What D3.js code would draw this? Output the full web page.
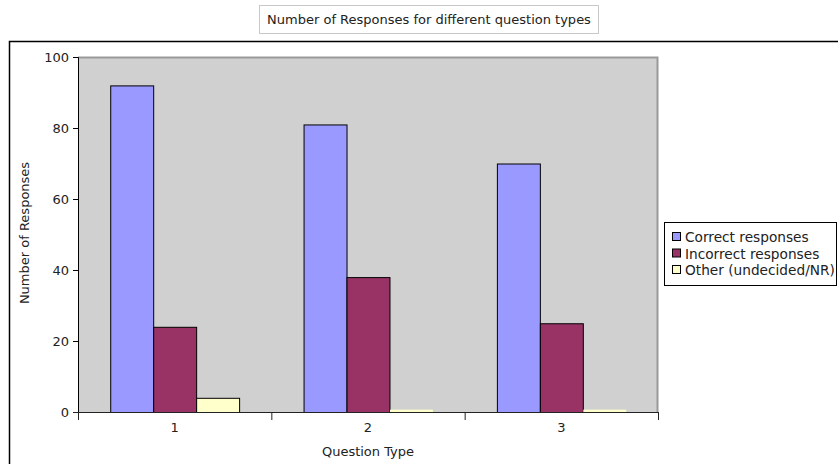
<!DOCTYPE html>
<html><head><meta charset="utf-8">
<script src="https://cdn.jsdelivr.net/npm/d3@7"></script>
<style>
body{margin:0;background:#fff;}
text{font-family:"DejaVu Sans",Verdana,sans-serif;font-size:13px;fill:#222;}
</style></head>
<body>
<svg id="c" width="838" height="464"></svg>
<script>
const categories = ["1","2","3"];
const seriesNames = ["Correct responses","Incorrect responses","Other (undecided/NR)"];
const correct = [92, 81, 70];
const incorrect = [24, 38, 25];
const other = [4, 0.8, 0.8];
const yTicks = [0, 20, 40, 60, 80, 100];
const colors = ["#9999ff", "#993366", "#ffffcc"];
const title = "Number of Responses for different question types";

const series = [correct, incorrect, other];
const svg = d3.select("#c");
const L = 78, R = 658, T = 57, B = 412;

// outer frame
svg.append("path").attr("d", "M9.5,464 V41.5 H838").attr("fill","none").attr("stroke","#000").attr("stroke-width",1.5);

// title box
const tg = svg.append("g");
tg.append("rect").attr("x",259.5).attr("y",5.5).attr("width",339).attr("height",28).attr("fill","#fff").attr("stroke","#c8c8c8");
tg.append("text").attr("x",429).attr("y",24).attr("text-anchor","middle").text(title);

const x = d3.scaleBand().domain(categories).range([L, R]).paddingInner(0).paddingOuter(0);
const inner = d3.scaleBand().domain(d3.range(series.length)).range([0, x.bandwidth()]).paddingInner(0).paddingOuter(0.75);
const y = d3.scaleLinear().domain([0, 100]).range([B, T]);

// plot background
svg.append("rect").attr("x",L).attr("y",T).attr("width",R-L).attr("height",B-T).attr("fill","#d0d0d0");
svg.append("path").attr("d",`M${L},${T+0.5} H${R-0.5} V${B}`).attr("fill","none").attr("stroke","#999").attr("stroke-width",2);

// bars
series.forEach((vals, si) => {
  svg.append("g").selectAll("rect").data(vals).join("rect")
    .attr("x", (d,i) => x(categories[i]) + inner(si) + 0.5)
    .attr("y", d => y(d) + 0.5)
    .attr("width", inner.bandwidth())
    .attr("height", d => Math.max(0, y(0) - y(d)))
    .attr("fill", colors[si])
    .attr("stroke", d => (y(0) - y(d)) > 4 ? "#000" : "none")
    .attr("stroke-width", 1);
});

// axes
const yAxis = d3.axisLeft(y).tickValues(yTicks).tickSize(5).tickPadding(4);
const yg = svg.append("g").attr("transform", `translate(${L},0)`).call(yAxis);
yg.select(".domain").attr("stroke","#000");
yg.selectAll(".tick text").style("font-size","13px").style("font-family","'DejaVu Sans',sans-serif").attr("fill","#222");

const xAxis = d3.axisBottom(x).tickSize(0).tickPadding(11);
const xg = svg.append("g").attr("transform", `translate(0,${B})`).call(xAxis);
xg.select(".domain").remove();
xg.selectAll(".tick text").style("font-size","13px").style("font-family","'DejaVu Sans',sans-serif").attr("fill","#222");
svg.append("line").attr("x1",L-5).attr("x2",R).attr("y1",B+0.5).attr("y2",B+0.5).attr("stroke","#222");
const bounds = [L].concat(categories.map(c => x(c) + x.bandwidth()));
svg.append("g").selectAll("line").data(bounds).join("line")
  .attr("x1", d => d + 0.5).attr("x2", d => d + 0.5).attr("y1", B).attr("y2", B + 8).attr("stroke","#222");

// axis titles
svg.append("text").attr("x",368).attr("y",456).attr("text-anchor","middle").text("Question Type");
svg.append("text").attr("transform","translate(29,233) rotate(-90)").attr("text-anchor","middle").text("Number of Responses");

// legend
const lg = svg.append("g");
lg.append("rect").attr("x",664.5).attr("y",222.5).attr("width",172).attr("height",63).attr("fill","#fff").attr("stroke","#000");
seriesNames.forEach((n, i) => {
  const yy = 237 + i * 16.5;
  lg.append("rect").attr("x",672.5).attr("y",yy-4.5).attr("width",8).attr("height",8).attr("fill",colors[i]).attr("stroke","#000");
  lg.append("text").attr("x",685).attr("y",yy+5).style("font-size","13.7px").text(n);
});
</script>
</body></html>
